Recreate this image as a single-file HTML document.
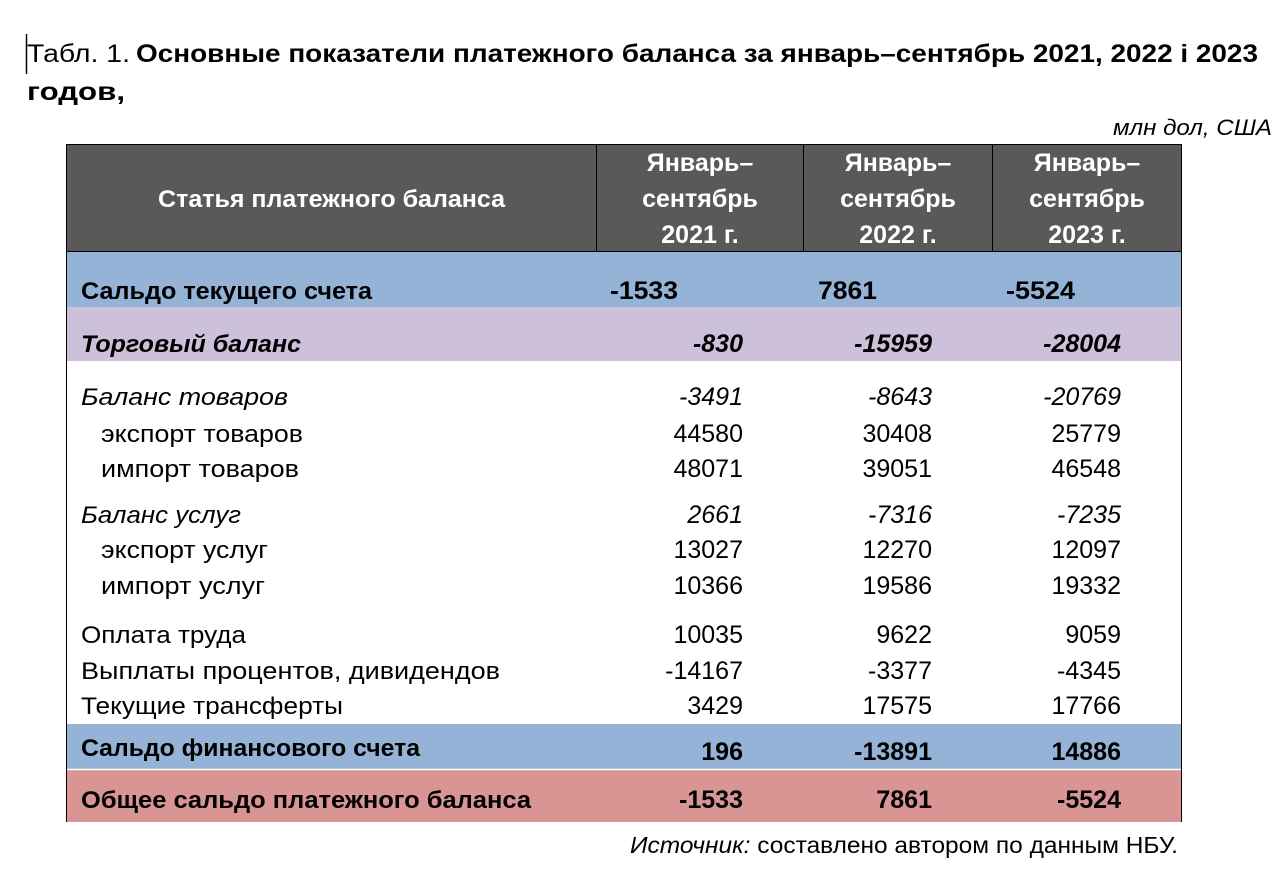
<!DOCTYPE html>
<html><head><meta charset="utf-8"><style>
html,body{margin:0;padding:0;background:#fff;}
svg{display:block;}
text{font-family:"Liberation Sans",sans-serif;fill:#000;}
.b,.b text{font-weight:bold;}
.i,.i text{font-style:italic;}
text.w,.w text{fill:#fff;font-weight:bold;}
.n,.n text{font-size:25px;}
.l,.l text{font-size:24px;}
</style></head><body>
<svg width="1283" height="879" viewBox="0 0 1283 879" xmlns="http://www.w3.org/2000/svg">
<line x1="26.5" y1="34" x2="26.5" y2="74" stroke="#000" stroke-width="1.5"/>
<text x="27" y="62" font-size="25" textLength="103" lengthAdjust="spacingAndGlyphs">Табл. 1.</text>
<text x="136" y="62" font-size="25" class="b" textLength="1122" lengthAdjust="spacingAndGlyphs">Основные показатели платежного баланса за январь–сентябрь 2021, 2022 і 2023</text>
<text x="27" y="100" font-size="25" class="b" textLength="98" lengthAdjust="spacingAndGlyphs">годов,</text>
<text x="1272" y="135" font-size="22" class="i" text-anchor="end" textLength="159" lengthAdjust="spacingAndGlyphs">млн дол, США</text>

<rect x="66" y="144" width="1116" height="108" fill="#595959"/>
<rect x="66" y="252" width="1116" height="55" fill="#95b3d7"/>
<rect x="66" y="307" width="1116" height="54" fill="#ccc0da"/>
<rect x="66" y="724" width="1116" height="45" fill="#95b3d7"/>
<rect x="66" y="770" width="1116" height="52" fill="#d99594"/>
<line x1="66" y1="769.5" x2="1182" y2="769.5" stroke="#fff" stroke-width="1.5"/>
<rect x="66.5" y="144.5" width="1115" height="107" fill="none" stroke="#000" stroke-width="1"/>
<line x1="596.5" y1="144" x2="596.5" y2="252" stroke="#000"/>
<line x1="803.5" y1="144" x2="803.5" y2="252" stroke="#000"/>
<line x1="992.5" y1="144" x2="992.5" y2="252" stroke="#000"/>
<line x1="66.5" y1="252" x2="66.5" y2="822" stroke="#000"/>
<line x1="1181.5" y1="252" x2="1181.5" y2="822" stroke="#000"/>

<text x="158" y="207" class="w l" textLength="347" lengthAdjust="spacingAndGlyphs">Статья платежного баланса</text>
<g class="w" text-anchor="middle" font-size="25">
<text x="700" y="171">Январь–</text><text x="700" y="207">сентябрь</text><text x="700" y="243">2021 г.</text>
<text x="898" y="171">Январь–</text><text x="898" y="207">сентябрь</text><text x="898" y="243">2022 г.</text>
<text x="1087" y="171">Январь–</text><text x="1087" y="207">сентябрь</text><text x="1087" y="243">2023 г.</text>
</g>

<text x="81" y="299" class="b l" textLength="291" lengthAdjust="spacingAndGlyphs">Сальдо текущего счета</text>
<text x="610" y="299" class="b n" textLength="68" lengthAdjust="spacingAndGlyphs">-1533</text><text x="818" y="299" class="b n" textLength="59" lengthAdjust="spacingAndGlyphs">7861</text><text x="1006" y="299" class="b n" textLength="69" lengthAdjust="spacingAndGlyphs">-5524</text>

<text x="81" y="352" class="b i l" textLength="220" lengthAdjust="spacingAndGlyphs">Торговый баланс</text>
<g text-anchor="end" class="b i n"><text x="743" y="352">-830</text><text x="932" y="352">-15959</text><text x="1121" y="352">-28004</text></g>

<text x="81" y="405" class="i l" textLength="207" lengthAdjust="spacingAndGlyphs">Баланс товаров</text>
<g text-anchor="end" class="i n"><text x="743" y="405">-3491</text><text x="932" y="405">-8643</text><text x="1121" y="405">-20769</text></g>

<text x="101" y="442" class="l" textLength="202" lengthAdjust="spacingAndGlyphs">экспорт товаров</text>
<g text-anchor="end" class="n"><text x="743" y="442">44580</text><text x="932" y="442">30408</text><text x="1121" y="442">25779</text></g>

<text x="101" y="477" class="l" textLength="198" lengthAdjust="spacingAndGlyphs">импорт товаров</text>
<g text-anchor="end" class="n"><text x="743" y="477">48071</text><text x="932" y="477">39051</text><text x="1121" y="477">46548</text></g>

<text x="81" y="523" class="i l" textLength="160" lengthAdjust="spacingAndGlyphs">Баланс услуг</text>
<g text-anchor="end" class="i n"><text x="743" y="523">2661</text><text x="932" y="523">-7316</text><text x="1121" y="523">-7235</text></g>

<text x="101" y="558" class="l" textLength="167" lengthAdjust="spacingAndGlyphs">экспорт услуг</text>
<g text-anchor="end" class="n"><text x="743" y="558">13027</text><text x="932" y="558">12270</text><text x="1121" y="558">12097</text></g>

<text x="101" y="594" class="l" textLength="164" lengthAdjust="spacingAndGlyphs">импорт услуг</text>
<g text-anchor="end" class="n"><text x="743" y="594">10366</text><text x="932" y="594">19586</text><text x="1121" y="594">19332</text></g>

<text x="81" y="643" class="l" textLength="165" lengthAdjust="spacingAndGlyphs">Оплата труда</text>
<g text-anchor="end" class="n"><text x="743" y="643">10035</text><text x="932" y="643">9622</text><text x="1121" y="643">9059</text></g>

<text x="81" y="679" class="l" textLength="419" lengthAdjust="spacingAndGlyphs">Выплаты процентов, дивидендов</text>
<g text-anchor="end" class="n"><text x="743" y="679">-14167</text><text x="932" y="679">-3377</text><text x="1121" y="679">-4345</text></g>

<text x="81" y="714" class="l" textLength="262" lengthAdjust="spacingAndGlyphs">Текущие трансферты</text>
<g text-anchor="end" class="n"><text x="743" y="714">3429</text><text x="932" y="714">17575</text><text x="1121" y="714">17766</text></g>

<text x="81" y="756" class="b l" textLength="339" lengthAdjust="spacingAndGlyphs">Сальдо финансового счета</text>
<g text-anchor="end" class="b n"><text x="743" y="760">196</text><text x="932" y="760">-13891</text><text x="1121" y="760">14886</text></g>

<text x="81" y="808" class="b l" textLength="450" lengthAdjust="spacingAndGlyphs">Общее сальдо платежного баланса</text>
<g text-anchor="end" class="b n"><text x="743" y="808">-1533</text><text x="932" y="808">7861</text><text x="1121" y="808">-5524</text></g>

<text x="630" y="853" font-size="23" textLength="548" lengthAdjust="spacingAndGlyphs"><tspan font-style="italic">Источник:</tspan> составлено автором по данным НБУ.</text>
</svg>
</body></html>
